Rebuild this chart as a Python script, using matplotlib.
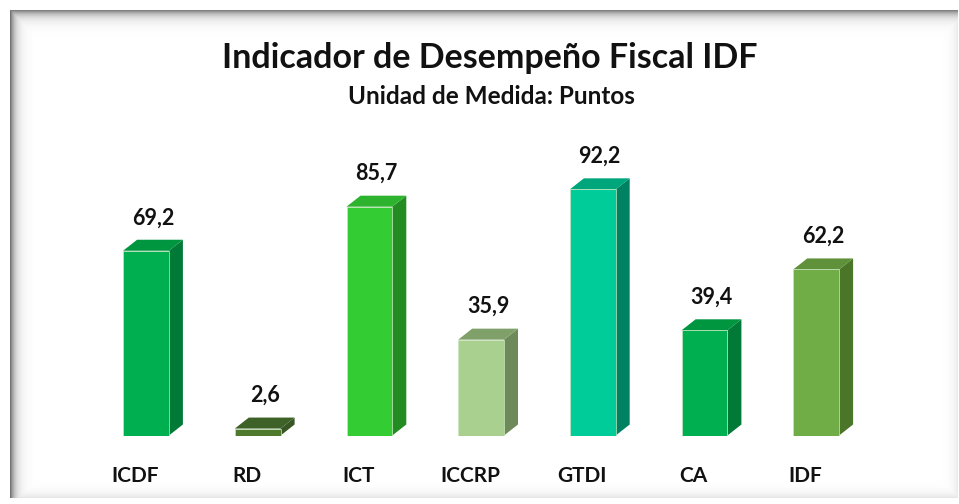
import numpy as np
import matplotlib
matplotlib.use("Agg")
import matplotlib.pyplot as plt
from matplotlib.patches import Polygon

categories = ["ICDF", "RD", "ICT", "ICCRP", "GTDI", "CA", "IDF"]
values = [69.2, 2.6, 85.7, 35.9, 92.2, 39.4, 62.2]
value_labels = ["69,2", "2,6", "85,7", "35,9", "92,2", "39,4", "62,2"]
front_colors = ["#00B050", "#4F7A2D", "#33CC33", "#A9D08E", "#00CC99", "#00B050", "#70AD47"]
side_colors = ["#007A36", "#375623", "#228B22", "#6E8A5A", "#008262", "#007A36", "#4B7529"]
top_colors = ["#00953F", "#3E6127", "#2DB32D", "#80A06A", "#00A67B", "#00953F", "#5E9139"]

FONT = "Lato"
W, H = 959, 504
fig = plt.figure(figsize=(W / 100, H / 100), dpi=100)
fig.patch.set_facecolor("white")

# Background frame with shadow
bg = fig.add_axes([0, 0, 1, 1])
bg.set_xlim(0, W)
bg.set_ylim(H, 0)
bg.axis("off")
x0, y0 = 10, 10
X, Y = np.meshgrid(np.arange(W), np.arange(H))
inside = (X >= x0) & (Y >= y0) & (X <= 957) & (Y <= 497)
shade = np.zeros((H, W))
dl = X - x0
dt = Y - y0
shade = np.maximum(shade, np.where(dl >= 0, 0.55 * np.exp(-dl / 5.0), 0))
shade = np.maximum(shade, np.where(dt >= 0, 0.5 * np.exp(-dt / 5.5), 0))
dr = 957 - X
db = 497 - Y
shade = np.maximum(shade, np.where(dr >= 0, 0.08 * np.exp(-dr / 5.0), 0))
shade = np.maximum(shade, np.where(db >= 0, 0.1 * np.exp(-db / 5.0), 0))
img = np.where(inside, 1 - shade, 1.0)
bg.imshow(img, cmap="gray", vmin=0, vmax=1, extent=(0, W, H, 0), aspect="auto", interpolation="bilinear")

# Main axes: category 0 at px 146, spacing 111.7 px; baseline at 435.5 px
px_per_cat = 111.7
xl0, xl1 = -0.6, 6.9
left_px = 146 + xl0 * px_per_cat
width_px = (xl1 - xl0) * px_per_cat
px_per_val = 2.67
yl1 = 110
base_px = 435.5
ax = fig.add_axes([left_px / W, (H - base_px) / H, width_px / W, yl1 * px_per_val / H])
ax.set_xlim(xl0, xl1)
ax.set_ylim(0, yl1)
ax.axis("off")

bw = 0.41
dx = 14 / px_per_cat
dy = 11 / px_per_val
xpos = np.arange(len(categories))

ax.bar(xpos, values, width=bw, color=front_colors, edgecolor="#C8E6C0", linewidth=0.5, zorder=3)
for x, v, sc, tc, lab in zip(xpos, values, side_colors, top_colors, value_labels):
    l, r = x - bw / 2, x + bw / 2
    ax.add_patch(Polygon([(r, 0), (r + dx, dy), (r + dx, v + dy), (r, v)], closed=True,
                         facecolor=sc, edgecolor="none", zorder=2))
    ax.add_patch(Polygon([(l, v), (l + dx, v + dy), (r + dx, v + dy), (r, v)], closed=True,
                         facecolor=tc, edgecolor="none", zorder=2))
    ax.text(x + dx / 2, v + dy + 22 / px_per_val, lab, ha="center", va="center",
            fontsize=15.5, fontweight="bold", family=FONT, color="#111111")

for x, c in zip(xpos, categories):
    ax.text(x - 11 / px_per_cat, -40 / px_per_val, c, ha="center", va="center",
            fontsize=15, fontweight="bold", family=FONT, color="#111111", clip_on=False)

fig.text(490 / W, 1 - 58 / H, "Indicador de Desempeño Fiscal IDF", ha="center", va="center",
         fontsize=24.5, fontweight="bold", family=FONT, color="#111111")
fig.text(491 / W, 1 - 96 / H, "Unidad de Medida: Puntos", ha="center", va="center",
         fontsize=17.5, fontweight="bold", family=FONT, color="#111111")

fig.savefig("out.png", dpi=100)
